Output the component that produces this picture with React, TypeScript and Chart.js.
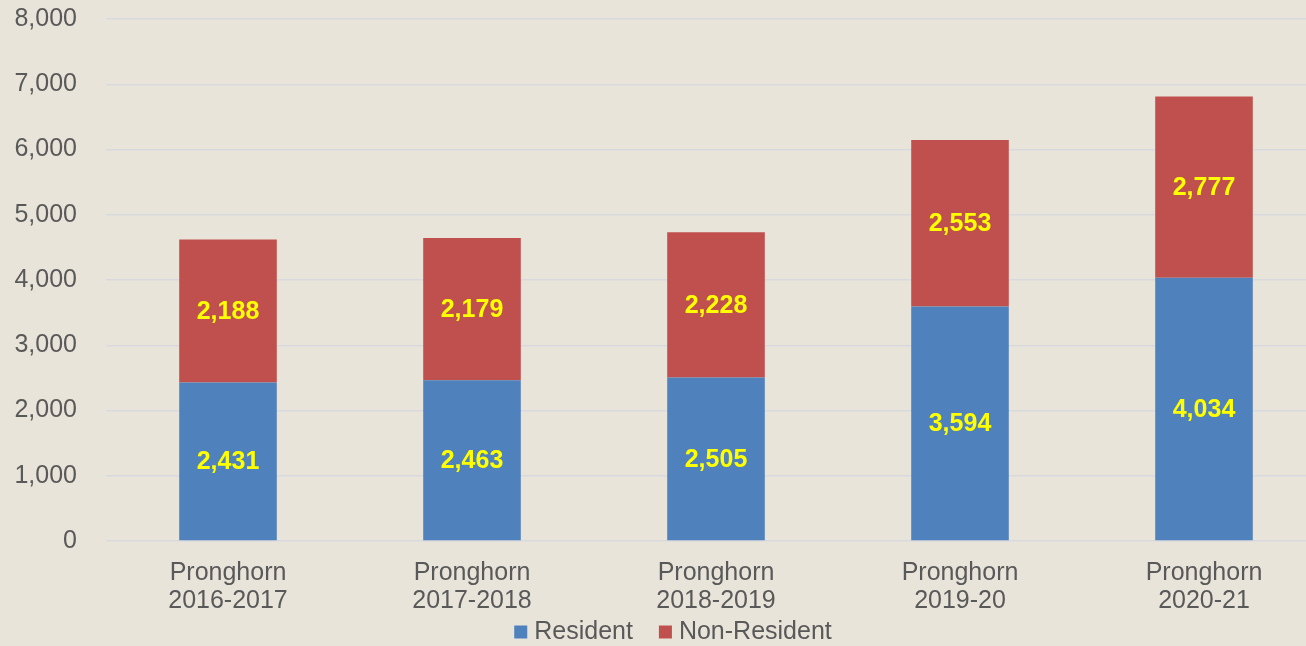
import React, { useEffect, useRef } from "react";
import { Chart, registerables } from "chart.js";

Chart.register(...registerables);

const categories: string[][] = [
  ["Pronghorn", "2016-2017"],
  ["Pronghorn", "2017-2018"],
  ["Pronghorn", "2018-2019"],
  ["Pronghorn", "2019-20"],
  ["Pronghorn", "2020-21"],
];
const resident = [2431, 2463, 2505, 3594, 4034];
const nonResident = [2188, 2179, 2228, 2553, 2777];
const yMin = 0;
const yMax = 8000;
const yStep = 1000;

const FONT = "'Liberation Sans', Arial, sans-serif";
const TEXT = "#595959";
const BG = "#e8e4da";

const valueLabels = {
  id: "valueLabels",
  afterDatasetsDraw(chart: any) {
    const ctx = chart.ctx;
    ctx.save();
    ctx.font = `bold 25px ${FONT}`;
    ctx.fillStyle = "#ffff00";
    ctx.textAlign = "center";
    ctx.textBaseline = "middle";
    chart.data.datasets.forEach((ds: any, di: number) => {
      const meta = chart.getDatasetMeta(di);
      meta.data.forEach((el: any, i: number) => {
        const v = ds.data[i] as number;
        ctx.fillText(v.toLocaleString("en-US"), el.x, (el.y + el.base) / 2 + 1);
      });
    });
    ctx.restore();
  },
};

const bottomLegend = {
  id: "bottomLegend",
  afterDraw(chart: any) {
    const ctx = chart.ctx;
    const ds = chart.data.datasets;
    ctx.save();
    ctx.font = `25px ${FONT}`;
    ctx.textBaseline = "middle";
    ctx.textAlign = "left";
    const box = 13;
    const gap = 7;
    const itemGap = 26;
    const widths = ds.map((d: any) => ctx.measureText(d.label).width);
    const total =
      widths.reduce((a: number, w: number) => a + box + gap + w, 0) + itemGap * (ds.length - 1);
    let x = 673 - total / 2;
    const y = 632;
    ds.forEach((d: any, i: number) => {
      ctx.fillStyle = d.backgroundColor;
      ctx.fillRect(x, y - box / 2, box, box);
      x += box + gap;
      ctx.fillStyle = TEXT;
      ctx.fillText(d.label, x, y);
      x += widths[i] + itemGap;
    });
    ctx.restore();
  },
};

export default function App() {
  const ref = useRef<HTMLCanvasElement | null>(null);

  useEffect(() => {
    if (!ref.current) return;
    const chart = new Chart(ref.current, {
      type: "bar",
      data: {
        labels: categories,
        datasets: [
          {
            label: "Resident",
            data: resident,
            backgroundColor: "#4f81bd",
            borderWidth: 0,
            categoryPercentage: 1,
            barPercentage: 0.4,
          },
          {
            label: "Non-Resident",
            data: nonResident,
            backgroundColor: "#c0504d",
            borderWidth: 0,
            categoryPercentage: 1,
            barPercentage: 0.4,
          },
        ],
      },
      options: {
        animation: false,
        responsive: true,
        maintainAspectRatio: false,
        layout: { padding: { top: 19, right: 4, left: 0, bottom: 0 } },
        plugins: {
          tooltip: { enabled: false },
          legend: { display: false },
        },
        scales: {
          x: {
            stacked: true,
            grid: { display: false, drawTicks: false },
            border: { display: false },
            ticks: {
              font: { family: FONT, size: 25, lineHeight: 1.12 },
              color: TEXT,
              padding: 18,
              maxRotation: 0,
              autoSkip: false,
            },
            afterFit: (scale: any) => {
              scale.height = 646 - 541;
            },
          },
          y: {
            stacked: true,
            min: yMin,
            max: yMax,
            grid: {
              color: "#d7d9de",
              lineWidth: 1.5,
              drawTicks: true,
              tickLength: 29,
              tickColor: "rgba(0,0,0,0)",
            },
            border: { display: false },
            ticks: {
              stepSize: yStep,
              font: { family: FONT, size: 25 },
              color: TEXT,
              padding: 0,
              callback: (v: any) => Number(v).toLocaleString("en-US"),
            },
            afterFit: (scale: any) => {
              scale.width = 106;
            },
          },
        },
      },
      plugins: [valueLabels, bottomLegend],
    });
    return () => chart.destroy();
  }, []);

  return (
    <div
      style={{
        position: "fixed",
        left: 0,
        top: 0,
        width: 1306,
        height: 646,
        overflow: "hidden",
        background: BG,
      }}
    >
      <div style={{ position: "relative", width: 1330, height: 646 }}>
        <canvas ref={ref} />
      </div>
    </div>
  );
}
